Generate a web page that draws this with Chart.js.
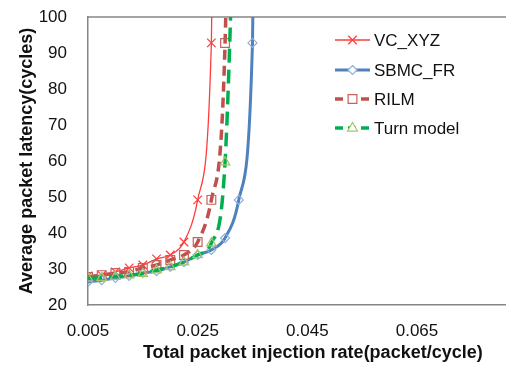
<!DOCTYPE html>
<html>
<head>
<meta charset="utf-8">
<script src="https://cdn.jsdelivr.net/npm/chart.js@4"></script>
<style>
  html, body { margin: 0; padding: 0; background: #fff; overflow: hidden; }
  #wrap { width: 545px; height: 367px; }
</style>
</head>
<body>
<div id="wrap"><canvas id="latencia" width="545" height="367"></canvas></div>
<script>
// datos
const injectionRate = [0.005, 0.0075, 0.01, 0.0125, 0.015, 0.0175, 0.02, 0.0225, 0.025, 0.0275, 0.03, 0.0325, 0.035, 0.0375];
const vcXyz     = [28.1, 28.3, 29.2, 30.3, 31.1, 32.8, 33.9, 37.5, 49.2, 92.8, 400, null, null, null];
const sbmcFr    = [26.4, 26.9, 27.5, 28.1, 28.9, 29.4, 30.6, 31.9, 33.9, 35.3, 38.6, 49.2, 92.8, 400];
const rilm      = [27.8, 28.3, 28.9, 29.2, 30.3, 31.1, 32.5, 33.9, 37.5, 49.2, 92.8, 400, null, null];
const turnModel = [27.4, 27.6, 27.9, 28.3, 28.7, 29.7, 30.6, 31.9, 33.9, 37.2, 59.7, 180, null, null];
const xTicks = [0.005, 0.025, 0.045, 0.065];
const yTicks = [20, 30, 40, 50, 60, 70, 80, 90, 100];

const toPoints = (arr) => arr
    .map((v, i) => (v === null ? null : { x: injectionRate[i], y: v }))
    .filter(p => p !== null);

const series = [
    { label: 'VC_XYZ', data: vcXyz, color: '#FF3B3B', width: 1.3, dash: [], marker: 'cross', mColor: '#FF3B3B', r: 6, order: 4 },
    { label: 'SBMC_FR', data: sbmcFr, color: '#4F81BD', width: 3, dash: [], marker: 'diamond', mColor: '#8FB0DA', r: 4.5, order: 3 },
    { label: 'RILM', data: rilm, color: '#C0504D', width: 3.5, dash: [10, 6], marker: 'square', mColor: '#C9605D', r: 6.2, order: 2 },
    { label: 'Turn model', data: turnModel, color: '#00B050', width: 3.5, dash: [14, 7], marker: 'triangle', mColor: '#A6C56B', r: 5.5, order: 1 }
];

const pointStyles = { cross: 'crossRot', diamond: 'rectRot', square: 'rect', triangle: 'triangle' };

function drawMarker(c, type, x, y, r, color) {
    c.save();
    c.setLineDash([]);
    c.strokeStyle = color;
    c.lineWidth = 1.2;
    c.fillStyle = '#fff';
    c.beginPath();
    if (type === 'cross') {
        const d = r * Math.SQRT1_2;
        c.moveTo(x - d, y - d); c.lineTo(x + d, y + d);
        c.moveTo(x - d, y + d); c.lineTo(x + d, y - d);
        c.stroke();
    } else if (type === 'diamond') {
        c.moveTo(x, y - r); c.lineTo(x + r, y); c.lineTo(x, y + r); c.lineTo(x - r, y); c.closePath();
        c.fill(); c.stroke();
    } else if (type === 'square') {
        const s = r * Math.SQRT1_2;
        c.rect(x - s, y - s, 2 * s, 2 * s);
        c.fill(); c.stroke();
    } else {
        c.moveTo(x, y - r); c.lineTo(x + r * 0.9, y + r * 0.55); c.lineTo(x - r * 0.9, y + r * 0.55); c.closePath();
        c.fill(); c.stroke();
    }
    c.restore();
}

// borde superior + leyenda dentro del area
const extras = {
    id: 'extras',
    beforeDatasetsDraw(chart) {
        const { ctx: c, chartArea: a } = chart;
        c.save();
        c.strokeStyle = '#868686';
        c.lineWidth = 1.5;
        c.beginPath();
        c.moveTo(a.left, a.top);
        c.lineTo(a.right, a.top);
        c.stroke();
        c.restore();
    },
    afterDraw(chart) {
        const c = chart.ctx;
        const x0 = 335, x1 = 370, rowY = [40, 70, 99, 128];
        series.forEach((s, i) => {
            const y = rowY[i];
            c.save();
            c.strokeStyle = s.color;
            c.lineWidth = s.width;
            c.setLineDash(s.dash.length ? [8, 5] : []);
            c.beginPath();
            c.moveTo(x0, y);
            c.lineTo(x1, y);
            c.stroke();
            c.restore();
            drawMarker(c, s.marker, (x0 + x1) / 2, y, s.r, s.mColor);
            c.save();
            c.fillStyle = '#111';
            c.font = '17px "Liberation Sans", Arial, sans-serif';
            c.textBaseline = 'middle';
            c.fillText(s.label, x1 + 4, y + 1);
            c.restore();
        });
    }
};

const ctx = document.getElementById('latencia').getContext('2d');

const grafica = new Chart(ctx, {
    type: 'line',
    data: {
        datasets: series.map(s => ({
            label: s.label,
            data: toPoints(s.data),
            borderColor: s.color,
            borderWidth: s.width,
            borderDash: s.dash,
            cubicInterpolationMode: 'monotone',
            pointStyle: pointStyles[s.marker],
            pointRadius: s.r,
            pointBorderColor: s.mColor,
            pointBorderWidth: 1.2,
            pointBackgroundColor: 'rgba(255,255,255,0)',
            fill: false,
            order: s.order
        }))
    },
    options: {
        responsive: false,
        animation: false,
        devicePixelRatio: 1,
        layout: { padding: { top: 17, right: 1, bottom: 0, left: 0 } },
        scales: {
            x: {
                type: 'linear',
                min: 0.005,
                max: 0.087,
                afterBuildTicks: (scale) => { scale.ticks = xTicks.map(v => ({ value: v })); },
                afterFit: (scale) => { scale.height = 62; },
                ticks: {
                    color: '#111',
                    padding: 16,
                    font: { family: '"Liberation Sans", Arial, sans-serif', size: 17 },
                    callback: (v) => v.toFixed(3)
                },
                grid: { display: false, drawTicks: false, tickLength: 0 },
                border: { display: true, color: '#868686', width: 1.5 },
                title: {
                    display: true,
                    text: 'Total packet injection rate(packet/cycle)',
                    color: '#111',
                    font: { family: '"Liberation Sans", Arial, sans-serif', size: 18, weight: 'bold' },
                    padding: { top: 0, bottom: 3 }
                }
            },
            y: {
                min: 20,
                max: 100,
                afterBuildTicks: (scale) => { scale.ticks = yTicks.map(v => ({ value: v })); },
                afterFit: (scale) => { scale.width = 88; },
                ticks: {
                    color: '#111',
                    padding: 0,
                    font: { family: '"Liberation Sans", Arial, sans-serif', size: 17 }
                },
                // tickLength solo separa las etiquetas, las marcas no se dibujan
                grid: { display: false, drawTicks: true, tickLength: 21 },
                border: { display: true, color: '#868686', width: 1.5 },
                title: {
                    display: true,
                    text: 'Average packet latency(cycles)',
                    color: '#111',
                    font: { family: '"Liberation Sans", Arial, sans-serif', size: 18, weight: 'bold' },
                    padding: { top: 16, bottom: 0 }
                }
            }
        },
        plugins: {
            legend: { display: false },
            title: { display: false },
            tooltip: { enabled: false }
        }
    },
    plugins: [extras]
});
</script>
</body>
</html>
